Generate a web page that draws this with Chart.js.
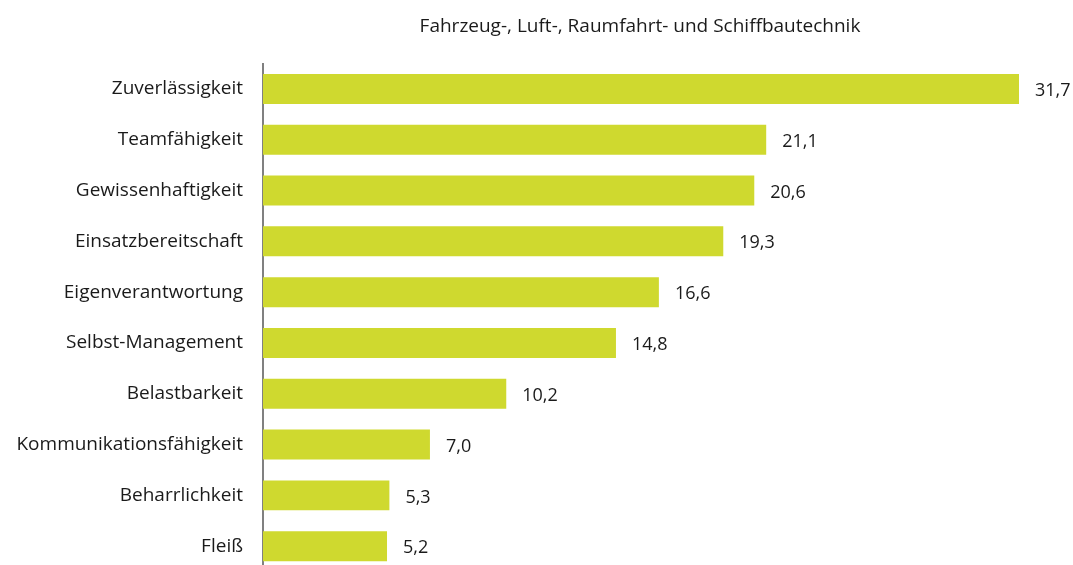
<!DOCTYPE html>
<html>
<head>
<meta charset="utf-8">
<script src="https://cdn.jsdelivr.net/npm/chart.js@4"></script>
<style>
  html, body { margin: 0; padding: 0; background: #fff; overflow: hidden; }
  #wrap { width: 1073px; height: 603px; }
</style>
</head>
<body>
<div id="wrap"><canvas id="myChart" width="1073" height="603"></canvas></div>
<script>
const chartTitle = 'Fahrzeug-, Luft-, Raumfahrt- und Schiffbautechnik';
const categories = ['Zuverlässigkeit', 'Teamfähigkeit', 'Gewissenhaftigkeit', 'Einsatzbereitschaft',
    'Eigenverantwortung', 'Selbst-Management', 'Belastbarkeit', 'Kommunikationsfähigkeit',
    'Beharrlichkeit', 'Fleiß'];
const values = [31.7, 21.1, 20.6, 19.3, 16.6, 14.8, 10.2, 7.0, 5.3, 5.2];

const FONT = '"Open Sans", Lato, sans-serif';

// value labels next to each bar
const valueLabels = {
    id: 'valueLabels',
    afterDatasetsDraw(chart) {
        const ctx = chart.ctx;
        const meta = chart.getDatasetMeta(0);
        ctx.save();
        ctx.font = '18px ' + FONT;
        ctx.fillStyle = '#1a1a1a';
        ctx.textBaseline = 'middle';
        ctx.textAlign = 'left';
        meta.data.forEach((bar, i) => {
            ctx.fillText(values[i].toFixed(1).replace('.', ','), bar.x + 16, bar.y + 2);
        });
        ctx.restore();
    }
};

// title placed above the plot
const topTitle = {
    id: 'topTitle',
    afterDraw(chart) {
        const ctx = chart.ctx;
        ctx.save();
        ctx.font = '19px ' + FONT;
        ctx.fillStyle = '#1a1a1a';
        ctx.textAlign = 'center';
        ctx.textBaseline = 'middle';
        ctx.fillText(chartTitle, 640, 27);
        ctx.restore();
    }
};

window.onload = function() {
    const ctx = document.getElementById('myChart').getContext('2d');
    const myChart = new Chart(ctx, {
        type: 'bar',
        data: {
            labels: categories,
            datasets: [{
                data: values,
                backgroundColor: '#cfd92f',
                borderWidth: 0,
                barPercentage: 0.59,
                categoryPercentage: 1.0
            }]
        },
        plugins: [valueLabels, topTitle],
        options: {
            indexAxis: 'y',
            responsive: false,
            animation: false,
            layout: { padding: { left: 0, right: 23, top: 63.5, bottom: 3 } },
            plugins: {
                legend: { display: false },
                tooltip: { enabled: false }
            },
            scales: {
                x: {
                    display: false,
                    min: 0,
                    max: 33
                },
                y: {
                    afterFit(scale) { scale.width = 263; },
                    grid: { display: false, drawTicks: false },
                    border: { display: true, color: '#808080', width: 2 },
                    ticks: {
                        padding: 20,
                        color: '#1a1a1a',
                        font: { family: FONT, size: 19 }
                    }
                }
            }
        }
    });
}
</script>
</body>
</html>
